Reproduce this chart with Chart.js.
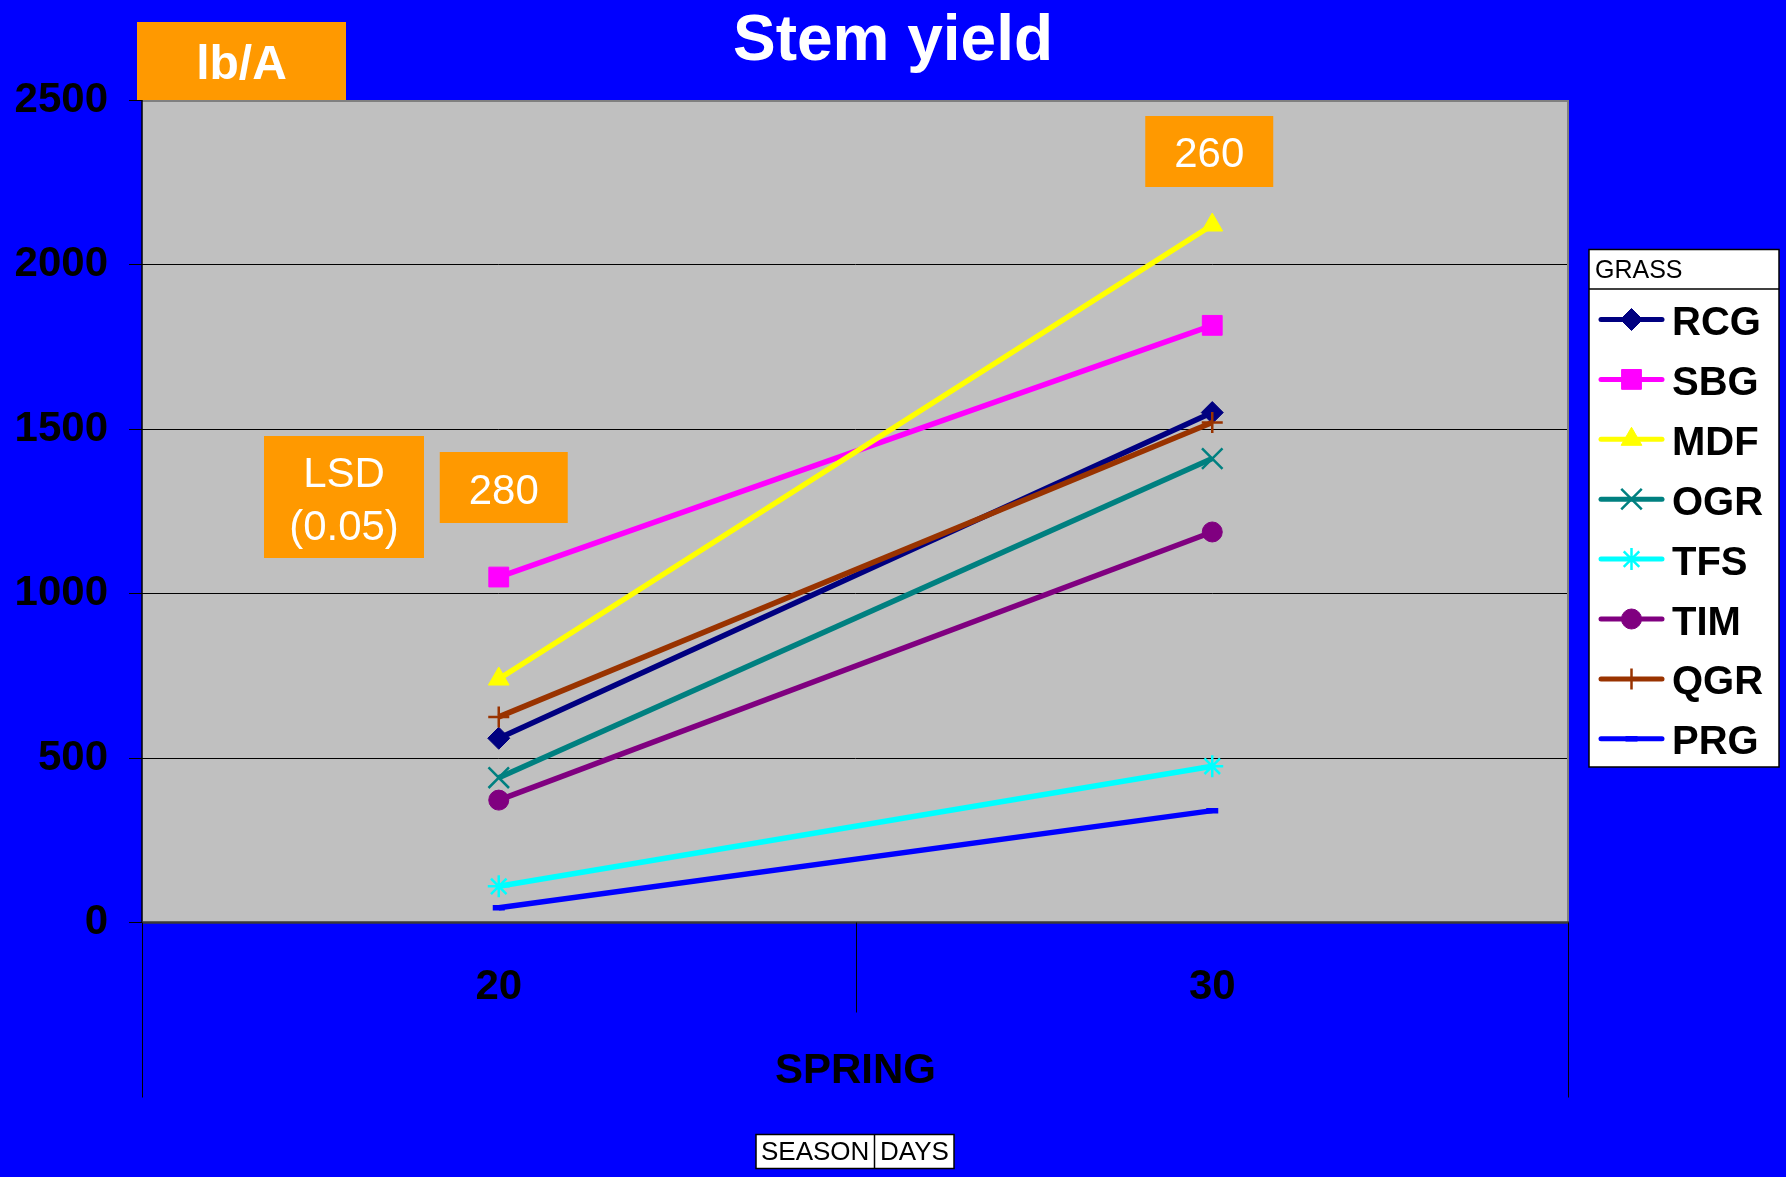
<!DOCTYPE html>
<html>
<head>
<meta charset="utf-8">
<title>Stem yield</title>
<script src="https://cdn.jsdelivr.net/npm/chart.js"></script>
<style>
  html, body { margin: 0; padding: 0; background: #0000FF; overflow: hidden; }
  canvas { display: block; }
</style>
</head>
<body>
<canvas id="chart" width="1786" height="1177"></canvas>
<script>
// ---- data ----
const categories = ['20', '30'];           // days of spring growth
const seasonTitle = 'SPRING';
const seriesNames = ['RCG', 'SBG', 'MDF', 'OGR', 'TFS', 'TIM', 'QGR', 'PRG'];
const rcg = [560, 1550];
const sbg = [1050, 1815];
const mdf = [740, 2120];
const ogr = [440, 1410];
const tfs = [110, 475];
const tim = [372, 1187];
const qgr = [625, 1520];
const prg = [45, 340];
const yTicks = [0, 500, 1000, 1500, 2000, 2500];
const lsdByDay = ['280', '260'];
const titleText = 'Stem yield';
const unitText = 'lb/A';
const lsdText = ['LSD', '(0.05)'];
const legendTitle = 'GRASS';
const fieldButtons = ['SEASON', 'DAYS'];

// ---- styles ----
const FONT = "'Liberation Sans', Arial, Helvetica, sans-serif";
const seriesValues = [rcg, sbg, mdf, ogr, tfs, tim, qgr, prg];
const seriesStyles = [
  { color: '#000080', point: 'rectRot',  radius: 11,   border: 1 },
  { color: '#FF00FF', point: 'rect',     radius: 14,   border: 1 },
  { color: '#FFFF00', point: 'triangle', radius: 12,   border: 1 },
  { color: '#008080', point: 'crossRot', radius: 14.5, border: 2.5 },
  { color: '#00FFFF', point: 'star',     radius: 11,   border: 2.5 },
  { color: '#800080', point: 'circle',   radius: 10,   border: 1 },
  { color: '#993300', point: 'cross',    radius: 10.5, border: 2.5 },
  { color: '#0000FF', point: 'line',     radius: 6,    border: 5.5 }
];

const datasets = seriesNames.map((name, i) => {
  const s = seriesStyles[i];
  return {
    label: name,
    data: seriesValues[i],
    borderColor: s.color,
    backgroundColor: s.color,
    borderWidth: 5.5,
    pointStyle: s.point,
    pointRadius: s.radius,
    pointBackgroundColor: s.color,
    pointBorderColor: s.color,
    pointBorderWidth: s.border,
    tension: 0,
    order: seriesNames.length - i   // later series painted on top
  };
});

// fallback marker painter in case helpers are not exposed
function paintMarker(ctx, style, x, y) {
  if (Chart.helpers && Chart.helpers.drawPoint) {
    Chart.helpers.drawPoint(ctx, { pointStyle: style.point, radius: style.radius, borderWidth: style.border, rotation: 0 }, x, y);
    return;
  }
  const r = style.radius;
  ctx.beginPath();
  ctx.arc(x, y, r, 0, Math.PI * 2);
  ctx.fill();
}

function orangeBox(ctx, x0, y0, x1, y1, lines, font, baselines) {
  ctx.fillStyle = '#FF9900';
  ctx.fillRect(x0, y0, x1 - x0, y1 - y0);
  ctx.fillStyle = '#FFFFFF';
  ctx.font = font;
  ctx.textAlign = 'center';
  ctx.textBaseline = 'alphabetic';
  lines.forEach((t, i) => ctx.fillText(t, (x0 + x1) / 2, baselines[i]));
}

const decor = {
  id: 'decor',
  beforeDraw(chart) {
    const { ctx, chartArea: a, width, height } = chart;
    ctx.save();
    ctx.fillStyle = '#0000FF';
    ctx.fillRect(0, 0, width, height);
    ctx.fillStyle = '#C0C0C0';
    ctx.fillRect(a.left, a.top, a.right - a.left, a.bottom - a.top);
    ctx.restore();
  },
  beforeDatasetsDraw(chart) {
    const { ctx, chartArea: a } = chart;
    const xs = chart.scales.x;
    ctx.save();
    // plot frame
    ctx.strokeStyle = '#808080';
    ctx.lineWidth = 2;
    ctx.beginPath();
    ctx.moveTo(a.left, a.top + 1);
    ctx.lineTo(a.right - 1, a.top + 1);
    ctx.lineTo(a.right - 1, a.bottom);
    ctx.stroke();
    // value axis
    ctx.strokeStyle = '#000000';
    ctx.lineWidth = 1.5;
    ctx.beginPath();
    ctx.moveTo(a.left, a.top);
    ctx.lineTo(a.left, a.bottom);
    ctx.stroke();
    // category axis
    ctx.strokeStyle = '#3a3a3a';
    ctx.lineWidth = 2.5;
    ctx.beginPath();
    ctx.moveTo(a.left, a.bottom);
    ctx.lineTo(a.right, a.bottom);
    ctx.stroke();
    // category separators below the axis
    const mid = (xs.getPixelForValue(0) + xs.getPixelForValue(1)) / 2;
    ctx.strokeStyle = '#000000';
    ctx.lineWidth = 1;
    ctx.beginPath();
    ctx.moveTo(Math.round(mid) + 0.5, a.bottom);
    ctx.lineTo(Math.round(mid) + 0.5, a.bottom + 90);
    ctx.moveTo(Math.round(a.left) + 0.5, a.bottom);
    ctx.lineTo(Math.round(a.left) + 0.5, a.bottom + 175);
    ctx.moveTo(Math.round(a.right) - 0.5, a.bottom);
    ctx.lineTo(Math.round(a.right) - 0.5, a.bottom + 175);
    ctx.stroke();
    ctx.restore();
  },
  afterDraw(chart) {
    const { ctx, width } = chart;
    const xs = chart.scales.x;
    ctx.save();
    // title
    ctx.fillStyle = '#FFFFFF';
    ctx.font = 'bold 64px ' + FONT;
    ctx.textAlign = 'center';
    ctx.textBaseline = 'alphabetic';
    ctx.fillText(titleText, width / 2, 60);

    // unit tag and LSD notes
    orangeBox(ctx, 137, 22, 346, 100, [unitText], 'bold 48px ' + FONT, [79]);
    orangeBox(ctx, 264, 436, 424, 558, lsdText, '42px ' + FONT, [487, 540]);
    const c0 = xs.getPixelForValue(0), c1 = xs.getPixelForValue(1);
    orangeBox(ctx, c0 - 59, 452, c0 + 69, 523, [lsdByDay[0]], '42px ' + FONT, [504]);
    orangeBox(ctx, c1 - 67, 116, c1 + 61, 187, [lsdByDay[1]], '42px ' + FONT, [167]);

    // legend
    const L = { x0: 1589, y0: 249.5, x1: 1779, y1: 767, head: 289 };
    ctx.fillStyle = '#FFFFFF';
    ctx.fillRect(L.x0, L.y0, L.x1 - L.x0, L.y1 - L.y0);
    ctx.strokeStyle = '#000000';
    ctx.lineWidth = 1.5;
    ctx.strokeRect(L.x0, L.y0, L.x1 - L.x0, L.y1 - L.y0);
    ctx.beginPath();
    ctx.moveTo(L.x0, L.head);
    ctx.lineTo(L.x1, L.head);
    ctx.stroke();
    ctx.fillStyle = '#000000';
    ctx.font = '25px ' + FONT;
    ctx.textAlign = 'left';
    ctx.fillText(legendTitle, 1595, 278);
    seriesNames.forEach((name, i) => {
      const s = seriesStyles[i];
      const y = 319.5 + i * 59.9;
      ctx.strokeStyle = s.color;
      ctx.lineWidth = 5;
      ctx.lineCap = 'round';
      ctx.beginPath();
      ctx.moveTo(1601, y);
      ctx.lineTo(1662, y);
      ctx.stroke();
      ctx.lineCap = 'butt';
      ctx.fillStyle = s.color;
      ctx.strokeStyle = s.color;
      ctx.lineWidth = s.border;
      paintMarker(ctx, s, 1631.5, y);
      ctx.fillStyle = '#000000';
      ctx.font = 'bold 40px ' + FONT;
      ctx.textAlign = 'left';
      ctx.fillText(name, 1672, y + 15.5);
    });

    // field buttons
    const B = { x0: 756, y0: 1134.5, x1: 954, y1: 1168.5, div: 874.5 };
    ctx.fillStyle = '#FFFFFF';
    ctx.fillRect(B.x0, B.y0, B.x1 - B.x0, B.y1 - B.y0);
    ctx.strokeStyle = '#000000';
    ctx.lineWidth = 1.5;
    ctx.strokeRect(B.x0, B.y0, B.x1 - B.x0, B.y1 - B.y0);
    ctx.beginPath();
    ctx.moveTo(B.div, B.y0);
    ctx.lineTo(B.div, B.y1);
    ctx.stroke();
    ctx.fillStyle = '#000000';
    ctx.font = '26px ' + FONT;
    ctx.textAlign = 'left';
    ctx.fillText(fieldButtons[0], 761, 1160);
    ctx.fillText(fieldButtons[1], 880, 1160);
    ctx.restore();
  }
};

Chart.defaults.font.family = FONT;

new Chart(document.getElementById('chart'), {
  type: 'line',
  data: { labels: categories, datasets },
  plugins: [decor],
  options: {
    responsive: false,
    animation: false,
    devicePixelRatio: 1,
    layout: { padding: { left: 0, right: 217, top: 100, bottom: 0 } },
    plugins: { legend: { display: false }, tooltip: { enabled: false }, title: { display: false } },
    scales: {
      x: {
        type: 'category',
        offset: true,
        grid: { display: false, drawTicks: false },
        border: { display: false },
        ticks: {
          color: '#000000',
          font: { size: 42, weight: 'bold' },
          padding: 40,
          maxRotation: 0,
          autoSkip: false
        },
        title: {
          display: true,
          text: seasonTitle,
          color: '#000000',
          font: { size: 42, weight: 'bold' },
          padding: { top: 0, bottom: 80 }
        },
        afterFit(scale) { scale.height = 254.5; }
      },
      y: {
        min: 0,
        max: 2500,
        afterBuildTicks(scale) { scale.ticks = yTicks.map(v => ({ value: v })); },
        grid: {
          color: (c) => (c.tick && (c.tick.value === 0 || c.tick.value === 2500)) ? 'rgba(0,0,0,0)' : '#000000',
          lineWidth: 1,
          drawTicks: true,
          tickLength: 13,
          tickColor: '#000000'
        },
        border: { display: false },
        ticks: {
          color: '#000000',
          font: { size: 42, weight: 'bold' },
          padding: 21,
          callback: (v) => String(v)
        },
        afterFit(scale) { scale.width = 142; }
      }
    }
  }
});
</script>
</body>
</html>
